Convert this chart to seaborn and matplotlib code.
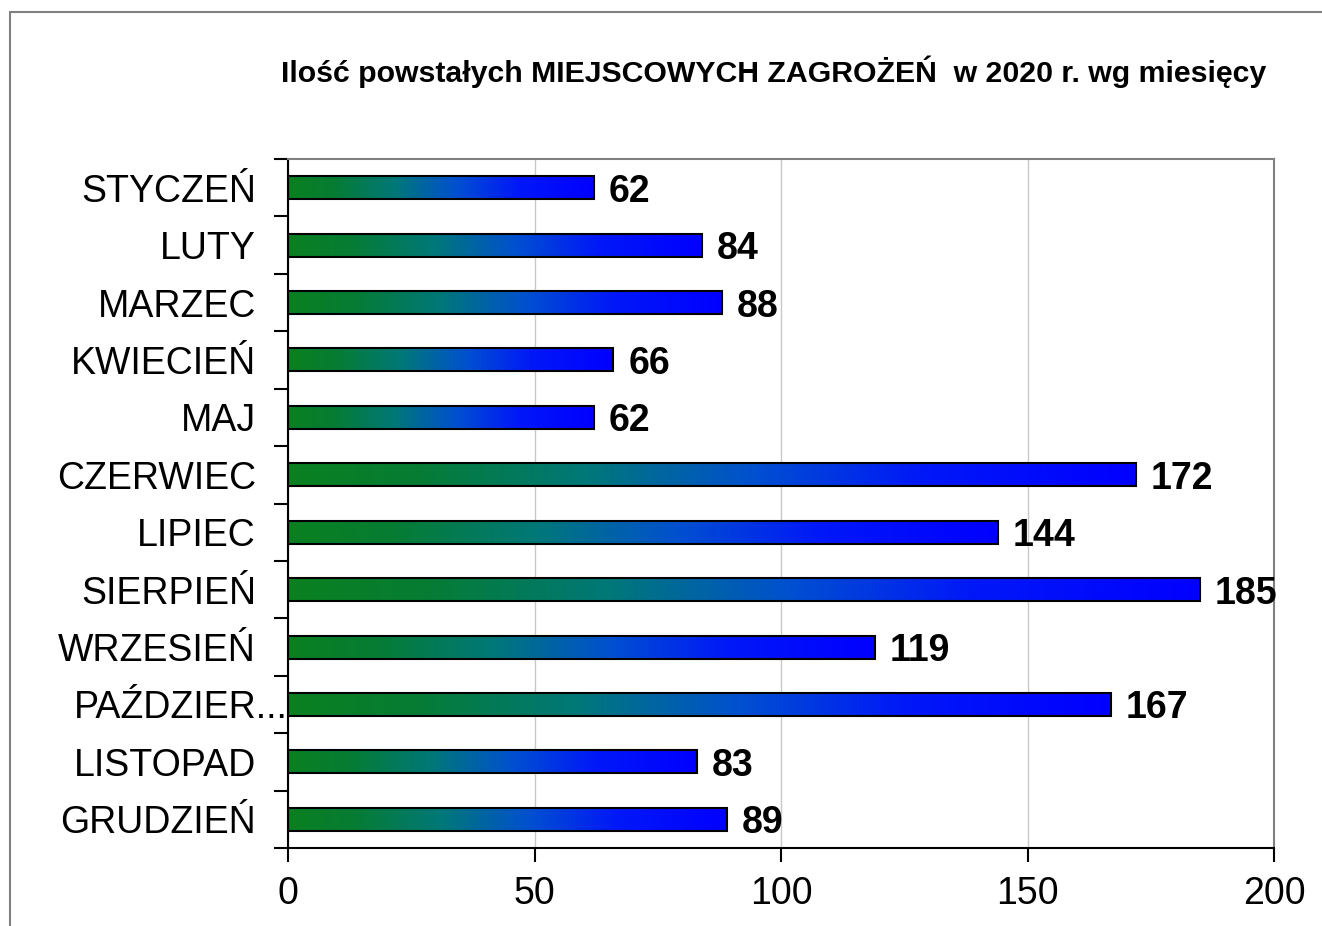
import numpy as np
import pandas as pd
import seaborn as sns
import matplotlib.pyplot as plt
from matplotlib.colors import LinearSegmentedColormap
from matplotlib.lines import Line2D
from matplotlib.transforms import ScaledTranslation

months = ['STYCZEŃ', 'LUTY', 'MARZEC', 'KWIECIEŃ', 'MAJ', 'CZERWIEC', 'LIPIEC',
          'SIERPIEŃ', 'WRZESIEŃ', 'PAŹDZIER...', 'LISTOPAD', 'GRUDZIEŃ']
counts = [62, 84, 88, 66, 62, 172, 144, 185, 119, 167, 83, 89]
x_ticks = [0, 50, 100, 150, 200]

df = pd.DataFrame({'miesiac': months, 'ilosc': counts})

sns.set_style('white')
plt.rcParams['font.family'] = ['Liberation Sans', 'DejaVu Sans']
plt.rcParams['text.color'] = 'black'
plt.rcParams['xtick.color'] = 'black'
plt.rcParams['ytick.color'] = 'black'

fig = plt.figure(figsize=(13.22, 9.26), dpi=100)
ax = fig.add_axes([288 / 1322, 1 - 848 / 926, (1274 - 288) / 1322, (848 - 159) / 926])

sns.barplot(data=df, x='ilosc', y='miesiac', orient='h', width=0.4,
            color='white', edgecolor='black', linewidth=1.5, ax=ax, zorder=3)

# green -> blue gradient inside every bar
cmap = LinearSegmentedColormap.from_list(
    'gb', [(0, '#0a8020'), (0.15, '#067c34'), (0.35, '#007878'),
           (0.55, '#0050d0'), (0.75, '#0018f8'), (1, '#0000ff')])
grad = np.linspace(0, 1, 256).reshape(1, -1)
for p in ax.patches:
    x0, y0 = p.get_x(), p.get_y()
    w, h = p.get_width(), p.get_height()
    im = ax.imshow(grad, cmap=cmap, aspect='auto', extent=[x0, x0 + w, y0 + h, y0],
                   zorder=2, interpolation='bilinear')
    im.set_clip_path(p)
    p.set_facecolor('none')

for i, v in enumerate(counts):
    ax.text(v + 3, i, str(v), va='center_baseline', ha='left', fontsize=27,
            fontweight='bold', zorder=4)

ax.set_xlim(0, 200)
ax.set_ylim(len(months) - 0.5, -0.5)
ax.set_xticks(x_ticks)
ax.tick_params(axis='x', labelsize=27, length=10, width=1.5, direction='out',
               bottom=True, pad=10)
ax.set_yticks(range(len(months)))
ax.set_yticklabels(months)
ax.tick_params(axis='y', which='major', labelsize=27, length=0, pad=23)
ax.set_yticks(np.arange(-0.5, len(months), 1), minor=True)
ax.tick_params(axis='y', which='minor', length=10, width=1.5, left=True)
ax.set_xlabel('')
ax.set_ylabel('')

# truncated label runs up to the axis line
lbl = ax.get_yticklabels()[9]
lbl.set_transform(lbl.get_transform() + ScaledTranslation(0.32, 0, fig.dpi_scale_trans))

ax.grid(axis='x', color='#c8c8c8', linewidth=1, zorder=0)
ax.set_axisbelow(True)
for side in ['top', 'right']:
    ax.spines[side].set_color('#808080')
    ax.spines[side].set_linewidth(1.5)
for side in ['left', 'bottom']:
    ax.spines[side].set_color('black')
    ax.spines[side].set_linewidth(1.5)

fig.text(774 / 1322, 1 - 72 / 926, 'Ilość powstałych MIEJSCOWYCH ZAGROŻEŃ  w 2020 r. wg miesięcy',
         ha='center', va='center', fontsize=21.8, fontweight='bold')

# outer chart frame
fig.add_artist(Line2D([10 / 1322, 1], [1 - 12 / 926, 1 - 12 / 926], color='#808080', lw=1.5))
fig.add_artist(Line2D([10 / 1322, 10 / 1322], [0, 1 - 12 / 926], color='#808080', lw=1.5))

plt.savefig('out.png', dpi=100)
